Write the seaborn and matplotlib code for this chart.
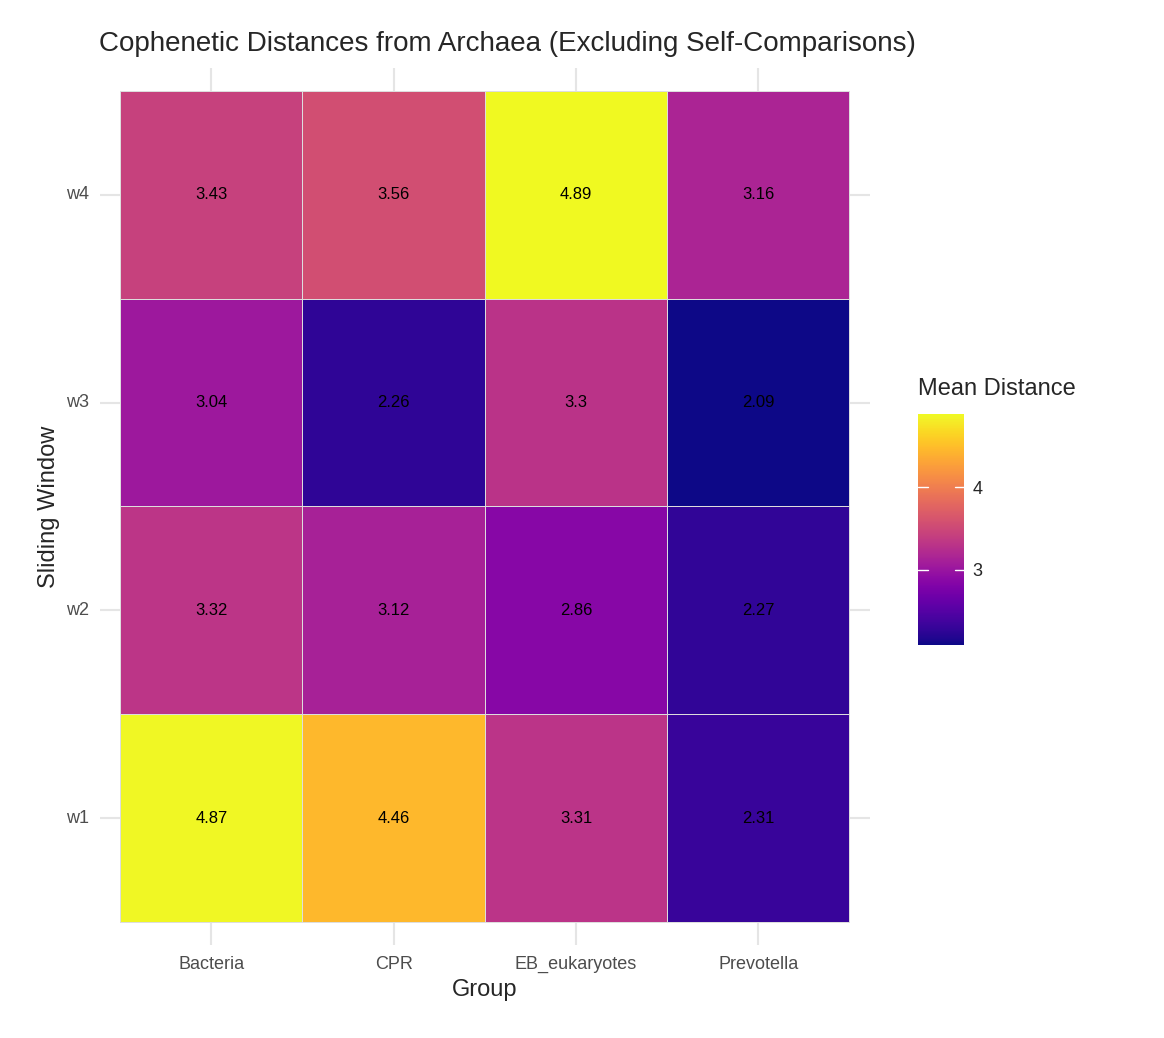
import numpy as np
import pandas as pd
import seaborn as sns
import matplotlib.pyplot as plt
import matplotlib as mpl

groups = ["Bacteria", "CPR", "EB_eukaryotes", "Prevotella"]
windows = ["w4", "w3", "w2", "w1"]
w4 = [3.43, 3.56, 4.89, 3.16]
w3 = [3.04, 2.26, 3.3, 2.09]
w2 = [3.32, 3.12, 2.86, 2.27]
w1 = [4.87, 4.46, 3.31, 2.31]

df = pd.DataFrame([w4, w3, w2, w1], index=windows, columns=groups)
annot = df.map(lambda v: f"{v:g}")

sns.set_style("white")
plt.rcParams['font.family'] = ['Liberation Sans', 'DejaVu Sans']

fig = plt.figure(figsize=(11.64, 10.38), dpi=100)
ax = fig.add_axes([0.086, 0.0896, 0.661, 0.845])
cax = fig.add_axes([0.789, 0.3786, 0.0395, 0.2225])

vmin, vmax = df.values.min(), df.values.max()
sns.heatmap(df, ax=ax, cmap="plasma", vmin=vmin, vmax=vmax, annot=annot, fmt="",
            annot_kws={"fontsize": 12, "color": "black"},
            linewidths=0.6, linecolor="#dddddd", cbar_ax=cax,
            cbar_kws={"ticks": [3, 4]})
ax.collections[0].set_zorder(2)
for t in ax.texts:
    t.set_zorder(3)
ax.set_xlim(-0.11, 4.11)
ax.set_ylim(4.11, -0.11)
ax.set_axisbelow(True)
ax.grid(True, color="#e5e5e5", linewidth=1.5)
for s in ax.spines.values():
    s.set_visible(False)
ax.tick_params(length=0, labelsize=13, colors="#4d4d4d", pad=8)
ax.set_yticklabels(windows, rotation=0)
ax.set_xlabel("Group", fontsize=17)
ax.set_ylabel("Sliding Window", fontsize=17)
ax.set_title("Cophenetic Distances from Archaea (Excluding Self-Comparisons)",
             fontsize=20, loc="left", x=-0.002, y=1.01)

cax.tick_params(length=0, labelsize=13, pad=6)
for v in [3, 4]:
    cax.axhline(v, xmin=0, xmax=0.2, color="white", lw=1)
    cax.axhline(v, xmin=0.8, xmax=1, color="white", lw=1)
cax.set_title("Mean Distance", fontsize=17, loc="left", pad=14)

fig.savefig("out.png", dpi=100)
